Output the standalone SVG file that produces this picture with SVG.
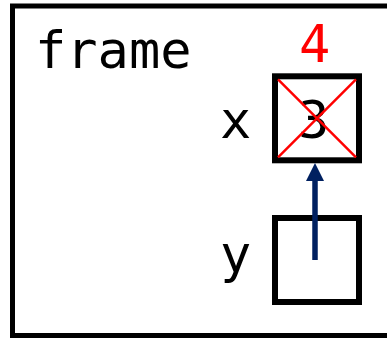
<svg xmlns="http://www.w3.org/2000/svg" width="387" height="339" viewBox="0 0 387 339">
<style>
.box{fill:#fff;stroke:#000;stroke-width:6}
.t{font-family:"DejaVu Sans Mono",monospace;font-size:52px;fill:#000}
.red{fill:#f00}
.cross{stroke:#f00;stroke-width:2.5}
</style>
<defs>
<marker id="ah" markerUnits="userSpaceOnUse" markerWidth="18" markerHeight="18" viewBox="0 0 18 18" refX="0" refY="9" orient="auto">
<path d="M0,0 L18,9 L0,18 Z" fill="#002060"/>
</marker>
</defs>
<rect width="387" height="339" fill="#fff"/>
<g id="frame">
<rect x="12.5" y="6" width="400" height="329.5" fill="none" stroke="#000" stroke-width="5"/>
<text class="t" x="35" y="68">frame</text>
</g>
<g id="x">
<text class="t" x="220" y="138">x</text>
<rect class="box" x="275" y="76.3" width="84" height="84"/>
<text class="t" x="298" y="138">3</text>
<line class="cross" x1="278" y1="79.3" x2="356" y2="157.3"/>
<line class="cross" x1="356" y1="79.3" x2="278" y2="157.3"/>
<text class="t red" x="299" y="62">4</text>
</g>
<g id="y">
<text class="t" x="220" y="272">y</text>
<rect class="box" x="275" y="218" width="84" height="84"/>
</g>
<g id="connectors">
<line x1="315" y1="260" x2="315" y2="181" stroke="#002060" stroke-width="5.5" marker-end="url(#ah)"/>
</g>
</svg>
